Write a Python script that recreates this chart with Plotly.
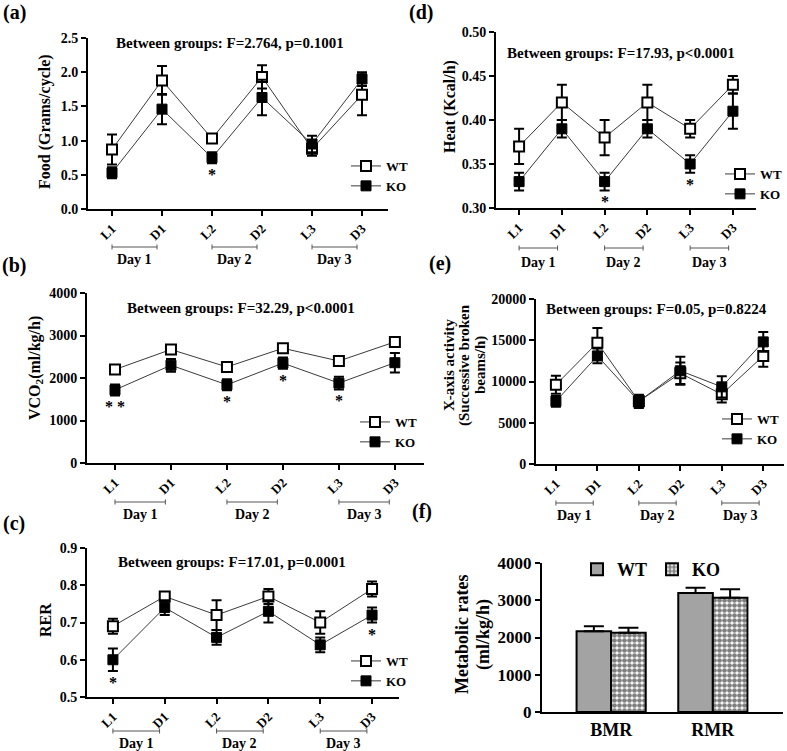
import plotly.graph_objects as go

W, H = 787, 751
FONT = "Liberation Serif, Times New Roman, serif"

# ---------------- data ----------------
cats = ["L1", "D1", "L2", "D2", "L3", "D3"]
days = ["Day 1", "Day 2", "Day 3"]
groups = ["WT", "KO"]

food_wt = [0.87, 1.88, 1.03, 1.93, 0.88, 1.67]
food_wt_err = [0.22, 0.21, 0.06, 0.17, 0.10, 0.30]
food_ko = [0.53, 1.46, 0.75, 1.63, 0.95, 1.90]
food_ko_err = [0.08, 0.22, 0.08, 0.26, 0.12, 0.10]
food_sig = ["", "", "*", "", "", ""]

vco2_wt = [2200, 2670, 2260, 2700, 2400, 2850]
vco2_wt_err = [60, 90, 60, 60, 80, 100]
vco2_ko = [1720, 2300, 1840, 2350, 1880, 2360]
vco2_ko_err = [130, 150, 130, 130, 150, 230]
vco2_sig = ["**", "", "*", "*", "*", ""]

rer_wt = [0.69, 0.77, 0.72, 0.77, 0.70, 0.79]
rer_wt_err = [0.02, 0.01, 0.04, 0.02, 0.03, 0.02]
rer_ko = [0.60, 0.74, 0.66, 0.73, 0.64, 0.72]
rer_ko_err = [0.03, 0.02, 0.02, 0.03, 0.02, 0.02]
rer_sig = ["*", "", "", "", "", "*"]

heat_wt = [0.37, 0.42, 0.38, 0.42, 0.39, 0.44]
heat_wt_err = [0.02, 0.02, 0.02, 0.02, 0.01, 0.01]
heat_ko = [0.33, 0.39, 0.33, 0.39, 0.35, 0.41]
heat_ko_err = [0.01, 0.01, 0.01, 0.01, 0.01, 0.02]
heat_sig = ["", "", "*", "", "*", ""]

xact_wt = [9600, 14700, 7600, 11000, 8450, 13100]
xact_wt_err = [1100, 1800, 800, 1300, 1000, 1300]
xact_ko = [7600, 13100, 7600, 11300, 9350, 14800]
xact_ko_err = [650, 900, 700, 1700, 1300, 1200]
xact_sig = ["", "", "", "", "", ""]

met_cats = ["BMR", "RMR"]
met_wt = [2165, 3195]
met_wt_err = [135, 140]
met_ko = [2130, 3070]
met_ko_err = [135, 225]


def fx(p):
    return p / W


def fy(p):
    return 1 - p / H


fig = go.Figure()

panels = [
    dict(wt=food_wt, wte=food_wt_err, ko=food_ko, koe=food_ko_err, sig=food_sig,
         xpx=(88, 388), ypx=(38, 209), xr=[-0.48, 5.52], yr=[0, 2.5], dtick=0.5, fmt=".1f",
         title="Between groups: F=2.764, p=0.1001", tpos=(230, 43),
         ytitle="Food (Grams/cycle)", ytx=[(45, 122)], label="(a)", lpos=(14, 13),
         leg=(346, 151), dayline=247, daytext=259),
    dict(wt=vco2_wt, wte=vco2_wt_err, ko=vco2_ko, koe=vco2_ko_err, sig=vco2_sig,
         xpx=(87, 424), ypx=(293, 463), xr=[-0.5, 5.52], yr=[0, 4000], dtick=1000, fmt="d",
         title="Between groups: F=32.29, p<0.0001", tpos=(241, 308),
         ytitle="VCO<sub>2</sub>(ml/kg/h)", ytx=[(35, 368)], label="(b)", lpos=(14, 265),
         leg=(355, 407), dayline=502, daytext=514),
    dict(wt=rer_wt, wte=rer_wt_err, ko=rer_ko, koe=rer_ko_err, sig=rer_sig,
         xpx=(87, 399), ypx=(548, 697), xr=[-0.5, 5.52], yr=[0.5, 0.9], dtick=0.1, fmt=".1f",
         title="Between groups: F=17.01, p=0.0001", tpos=(232, 562),
         ytitle="RER", ytx=[(45, 620)], label="(c)", lpos=(14, 523),
         leg=(346, 646), dayline=731, daytext=743),
    dict(wt=heat_wt, wte=heat_wt_err, ko=heat_ko, koe=heat_ko_err, sig=heat_sig,
         xpx=(496, 756), ypx=(32, 208), xr=[-0.54, 5.54], yr=[0.30, 0.50], dtick=0.05, fmt=".2f",
         title="Between groups: F=17.93, p<0.0001", tpos=(621, 53),
         ytitle="Heat (Kcal/h)", ytx=[(450, 106)], label="(d)", lpos=(421, 13),
         leg=(720, 159), dayline=248, daytext=262),
    dict(wt=xact_wt, wte=xact_wt_err, ko=xact_ko, koe=xact_ko_err, sig=xact_sig,
         xpx=(536, 784), ypx=(299, 464), xr=[-0.48, 5.5], yr=[0, 20000], dtick=5000, fmt="d",
         title="Between groups: F=0.05, p=0.8224", tpos=(656, 309),
         ytitle=None, ytx=[(449, 365, "X-axis activity"), (465, 365, "(Successive broken"),
                           (481, 365, "beams/h)")],
         label="(e)", lpos=(440, 263),
         leg=(717, 404), dayline=503, daytext=515),
]

annotations = []
shapes = []
layout_axes = {}

for i, p in enumerate(panels, start=1):
    sfx = "" if i == 1 else str(i)
    xa, ya = "x" + sfx, "y" + sfx
    legname = "legend" + sfx
    x = list(range(len(cats)))
    # WT
    fig.add_trace(go.Scatter(
        x=x, y=p["wt"], name=groups[0], mode="lines+markers",
        xaxis=xa, yaxis=ya, legend=legname,
        line=dict(color="#3a3a3a", width=1),
        marker=dict(symbol="square", size=10, color="white", line=dict(color="black", width=2)),
        error_y=dict(type="data", array=p["wte"], color="black", thickness=2, width=5),
    ))
    # KO
    fig.add_trace(go.Scatter(
        x=x, y=p["ko"], name=groups[1], mode="lines+markers",
        xaxis=xa, yaxis=ya, legend=legname,
        line=dict(color="#3a3a3a", width=1),
        marker=dict(symbol="square", size=10, color="black", line=dict(color="black", width=1)),
        error_y=dict(type="data", array=p["koe"], color="black", thickness=2, width=5),
    ))

    layout_axes["xaxis" + sfx] = dict(
        domain=[fx(p["xpx"][0]), fx(p["xpx"][1])], anchor=ya, range=p["xr"],
        tickmode="array", tickvals=x, ticktext=cats, tickangle=-45,
        showline=True, linewidth=2, linecolor="black", ticks="outside", ticklen=5,
        tickwidth=2, tickcolor="black", showgrid=False, zeroline=False, automargin=False,
        tickfont=dict(family=FONT, size=13, color="black", weight="bold"),
    )
    layout_axes["yaxis" + sfx] = dict(
        domain=[fy(p["ypx"][1]), fy(p["ypx"][0])], anchor=xa, range=p["yr"],
        dtick=p["dtick"], tick0=p["yr"][0], tickformat=p["fmt"],
        showline=True, linewidth=2, linecolor="black", ticks="outside", ticklen=5,
        tickwidth=2, tickcolor="black", showgrid=False, zeroline=False, automargin=False,
        tickfont=dict(family=FONT, size=14, color="black", weight="bold"),
    )
    layout_axes[legname] = dict(
        x=fx(p["leg"][0]), y=fy(p["leg"][1]), xanchor="left", yanchor="top",
        bgcolor="rgba(0,0,0,0)", itemwidth=30, tracegroupgap=0,
        font=dict(family=FONT, size=13, color="black", weight="bold"),
    )

    # title
    annotations.append(dict(
        text=p["title"], x=fx(p["tpos"][0]), y=fy(p["tpos"][1]), xref="paper", yref="paper",
        showarrow=False, xanchor="center", yanchor="middle",
        font=dict(family=FONT, size=15, color="black", weight="bold")))
    # y title
    for t in p["ytx"]:
        annotations.append(dict(
            text=p["ytitle"] if p["ytitle"] else t[2], x=fx(t[0]), y=fy(t[1]),
            xref="paper", yref="paper", showarrow=False, textangle=-90,
            xanchor="center", yanchor="middle",
            font=dict(family=FONT, size=16 if p["ytitle"] else 15, color="black", weight="bold")))
    # panel label
    annotations.append(dict(
        text=p["label"], x=fx(p["lpos"][0]), y=fy(p["lpos"][1]), xref="paper", yref="paper",
        showarrow=False, xanchor="center", yanchor="middle",
        font=dict(family=FONT, size=20, color="black", weight="bold")))
    # significance stars
    for k, s in enumerate(p["sig"]):
        if s:
            annotations.append(dict(
                text=s.replace("**", "* *"), x=k, y=p["ko"][k] - p["koe"][k], xref=xa, yref=ya,
                showarrow=False, xanchor="center", yanchor="top", yshift=-1,
                font=dict(family=FONT, size=16, color="#000000", weight="bold")))
    # day brackets
    for d, dname in enumerate(days):
        x0, x1 = 2 * d + 0.0, 2 * d + 0.9
        yl = fy(p["dayline"])
        shapes.append(dict(type="line", xref=xa, yref="paper", x0=x0, x1=x1, y0=yl, y1=yl,
                           line=dict(color="#555555", width=1)))
        for xe in (x0, x1):
            shapes.append(dict(type="line", xref=xa, yref="paper", x0=xe, x1=xe,
                               y0=fy(p["dayline"] - 2.5), y1=fy(p["dayline"] + 2.5),
                               line=dict(color="#555555", width=1)))
        annotations.append(dict(
            text=dname, x=(x0 + x1) / 2, y=fy(p["daytext"]), xref=xa, yref="paper",
            showarrow=False, xanchor="center", yanchor="middle",
            font=dict(family=FONT, size=14, color="black", weight="bold")))

# ---------------- panel (f) bars ----------------
fig.add_trace(go.Bar(
    x=met_cats, y=met_wt, name=groups[0], xaxis="x6", yaxis="y6", legend="legend6",
    marker=dict(color="#a3a3a3", line=dict(color="black", width=2)),
    error_y=dict(type="data", array=met_wt_err, arrayminus=[0] * len(met_wt_err),
                 symmetric=False, color="black", thickness=2, width=10),
))
fig.add_trace(go.Bar(
    x=met_cats, y=met_ko, name=groups[1], xaxis="x6", yaxis="y6", legend="legend6",
    marker=dict(color="white", line=dict(color="black", width=2),
                pattern=dict(shape=".", fgcolor="black", bgcolor="white", size=5, solidity=0.7)),
    error_y=dict(type="data", array=met_ko_err, arrayminus=[0] * len(met_ko_err),
                 symmetric=False, color="black", thickness=2, width=10),
))

layout_axes["xaxis6"] = dict(
    domain=[fx(542), fx(783)], anchor="y6", range=[-0.68, 1.69],
    showline=True, linewidth=2, linecolor="black", ticks="", showgrid=False, zeroline=False,
    automargin=False,
    tickfont=dict(family=FONT, size=18, color="black", weight="bold"),
)
layout_axes["yaxis6"] = dict(
    domain=[fy(712), fy(563)], anchor="x6", range=[0, 4000], dtick=1000,
    showline=True, linewidth=2, linecolor="black", ticks="outside", ticklen=5,
    tickwidth=2, tickcolor="black", showgrid=False, zeroline=False, automargin=False,
    tickfont=dict(family=FONT, size=17, color="black", weight="bold"),
)
layout_axes["legend6"] = dict(
    x=fx(577), y=fy(551), xanchor="left", yanchor="top", orientation="h",
    bgcolor="rgba(0,0,0,0)", font=dict(family=FONT, size=18, color="black", weight="bold"),
)
annotations.append(dict(text="(f)", x=fx(422), y=fy(525), xref="paper", yref="paper",
                        showarrow=False, font=dict(family=FONT, size=20, color="black", weight="bold")))
for xx, t in ((462, "Metabolic rates"), (483, "(ml/kg/h)")):
    annotations.append(dict(text=t, x=fx(xx), y=fy(635), xref="paper", yref="paper",
                            showarrow=False, textangle=-90, xanchor="center", yanchor="middle",
                            font=dict(family=FONT, size=18, color="black", weight="bold")))

fig.update_layout(
    width=W, height=H, margin=dict(l=0, r=0, t=0, b=0, pad=0, autoexpand=False),
    paper_bgcolor="white", plot_bgcolor="white",
    barmode="group", bargap=0.32, bargroupgap=0,
    annotations=annotations, shapes=shapes,
    font=dict(family=FONT, color="black"),
    **layout_axes,
)

fig.write_html(
    "out.html",
    config={"displayModeBar": False},
    post_script="document.body.style.margin='0';document.body.style.overflow='hidden';",
)
